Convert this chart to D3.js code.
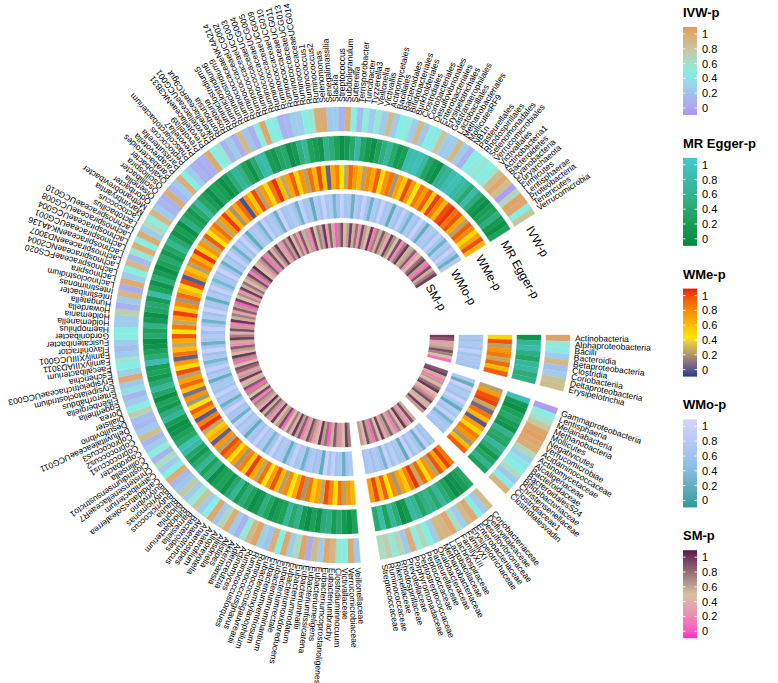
<!DOCTYPE html>
<html><head><meta charset="utf-8">
<script src="https://cdn.jsdelivr.net/npm/d3@7"></script>
<style>body{margin:0;background:#fff}svg{display:block}text{font-family:"Liberation Sans",Arial,Helvetica,sans-serif}</style>
</head><body><svg id="c" width="778" height="683"></svg>
<script>
// ---- categories (sector by sector, clockwise) ----
const sectorA=["Actinobacteria","Alphaproteobacteria","Bacilli","Bacteroidia","Betaproteobacteria","Clostridia","Coriobacteriia","Deltaproteobacteria","Erysipelotrichia"];
const sectorB=["Gammaproteobacteria","Lentisphaeria","Melainabacteria","Methanobacteria","Mollicutes","Negativicutes","Verrucomicrobiae","Acidaminococcaceae","Actinomycetaceae","Alcaligenaceae","Bacteroidaceae","BacteroidalesS24","Bifidobacteriaceae","Christensenellaceae","Clostridiaceae1","Clostridialesvadin"];
const sectorC=["Coriobacteriaceae","Defluviitaleaceae","Desulfovibrionaceae","Enterobacteriaceae","Erysipelotrichaceae","FamilyXI","FamilyXIII","Lachnospiraceae","Lactobacillaceae","Methanobacteriaceae","Oxalobacteraceae","Pasteurellaceae","Peptococcaceae","Peptostreptococcaceae","Porphyromonadaceae","Prevotellaceae","Rhodospirillaceae","Rikenellaceae","Ruminococcaceae","Streptococcaceae"];
const sectorDFamilies=["Veillonellaceae","Verrucomicrobiaceae","Victivallaceae"];
const sectorDGenera=["Clostridiuminnocuum","Eubacteriumbrachy","Eubacteriumcoprostanoligenes","Eubacteriumeligens","Eubacteriumfissicatena","Eubacteriumhallii","Eubacteriumnodatum","Eubacteriumoxidoreducens","Eubacteriumrectale","Eubacteriumruminantium","Eubacteriumventriosum","Eubacteriumxylanophilum","Ruminococcusgauvreauii","Ruminococcusgnavus","Ruminococcustorques","Actinomyces","Adlercreutzia","Akkermansia","Alistipes","Allisonella","Alloprevotella","Anaerofilum","Anaerostipes","Anaerotruncus","Bacteroides","Barnesiella","Bifidobacterium","Bilophila","Blautia","Butyricicoccus","Butyricimonas","Butyrivibrio","CandidatusSoleaferrea","Catenibacterium","ChristensenellaceaeR7","Clostridiumsensustricto1","Collinsella","Coprobacter","Coprococcus1","Coprococcus2","Coprococcus3","DefluviitaleaceaeUCG011","Desulfovibrio","Dialister","Dorea","Eggerthella","Eisenbergiella","Enterorhabdus","Erysipelatoclostridium","ErysipelotrichaceaeUCG003","Escherichia","Faecalibacterium","FamilyXIIIAD3011","FamilyXIIIUCG001","Flavonifractor","Fusicatenibacter","Gordonibacter","Haemophilus","Holdemanella","Holdemania","Howardella","Hungatella","Intestinibacter","Intestinimonas","Lachnoclostridium","Lachnospira","LachnospiraceaeFCS020","LachnospiraceaeNC2004","LachnospiraceaeND3007","LachnospiraceaeNK4A136","LachnospiraceaeUCG001","LachnospiraceaeUCG004","LachnospiraceaeUCG008","LachnospiraceaeUCG010","Lactobacillus","Lactococcus","Marvinbryantia","Methanobrevibacter","Odoribacter","Olsenella","Oscillibacter","Oscillospira","Oxalobacter","Parabacteroides","Paraprevotella","Parasutterella","Peptococcus","Phascolarctobacterium","Prevotella7","Prevotella9","PrevotellaceaeNK3B31","PrevotellaceaeUCG001","RikenellaceaeRC9gut","Romboutsia","Roseburia","Ruminiclostridium5","Ruminiclostridium6","Ruminiclostridium9","RuminococcaceaeNK4A214","RuminococcaceaeUCG002","RuminococcaceaeUCG003","RuminococcaceaeUCG004","RuminococcaceaeUCG005","RuminococcaceaeUCG009","RuminococcaceaeUCG010","RuminococcaceaeUCG011","RuminococcaceaeUCG013","RuminococcaceaeUCG014","Ruminococcus1","Ruminococcus2","Selenomonas","Senegalimassilia","Slackia","Streptococcus","Subdoligranulum","Sutterella","Terrisporobacter","Turicibacter","Tyzzerella3","Veillonella","Victivallis"];
const sectorDOrders=["Actinomycetales","Bacillales","Bacteroidales","Bifidobacteriales","Burkholderiales","Clostridiales","Coriobacteriales","Desulfovibrionales","Enterobacteriales","Erysipelotrichales","Gastranaerophilales","Lactobacillales","Methanobacteriales","MollicutesRF9","NB1n","Pasteurellales","Rhodospirillales","Selenomonadales","Verrucomicrobiales","Victivallales"];
const sectorDPhyla=["Actinobacteria1","Bacteroidetes","Cyanobacteria","Euryarchaeota","Firmicutes","Lentisphaerae","Proteobacteria","Tenericutes","Verrucomicrobia"];

const ringNames=["IVW-p","MR Egger-p","WMe-p","WMo-p","SM-p"];
const legendTicks=[0,0.2,0.4,0.6,0.8,1];
const legendTickLabels=["0","0.2","0.4","0.6","0.8","1"];

// ---- series values (p-values, in item order A,B,C,D) ----
const ivwP=[0.96,0.55,0.48,0.3,0.82,0.22,0.3,0.78,0.8,
0.04,0.52,0.58,0.74,0.95,0.97,0.93,0.9,0.66,0.32,0.44,0.5,0.62,0.28,0.46,0.86,
0.8,0.3,0.5,0.92,0.82,0.3,0.6,0.93,0.85,0.84,0.3,0.5,0.65,0.52,0.9,0.28,0.66,0.55,0.7,0.62,
0.3,0.92,0.5,0.55,0.85,0.94,0.3,0.82,0.12,0.94,0.62,0.3,0.93,0.5,0.88,
0.25,0.34,0.95,0.82,0.55,0.16,0.3,0.9,0.66,0.28,0.93,0.5,0.3,0.76,0.55,
0.3,0.72,0.28,0.2,0.9,0.5,0.3,0.62,0.18,0.52,0.3,0.18,0.8,0.3,0.2,
0.22,0.7,0.5,0.3,0.18,0.4,0.28,0.92,0.32,0.5,0.55,0.3,0.22,0.3,0.5,
0.5,0.3,0.32,0.7,0.15,0.3,0.85,0.12,0.9,0.3,0.5,0.82,0.2,0.55,0.9,
0.5,0.92,0.3,0.62,0.52,0.85,0.3,0.18,0.15,0.9,0.2,0.3,0.88,0.5,0.3,
0.15,0.12,0.15,0.92,0.5,0.55,0.18,0.3,0.15,0.82,0.25,0.15,0.52,0.93,0.5,
0.48,0.15,0.2,0.3,0.3,0.5,0.55,0.9,0.92,0.28,0.3,0.15,0.9,0.5,0.2,
0.52,0.3,0.55,0.3,0.8,0.3,0.5,0.52,0.3,0.82,0.28,0.5,0.48,0.75,0.3,
0.3,0.82,0.3,0.15,0.5,0.52,0.55,0.5,0.55,0.82,0.92,0.8,0.05,0.65,0.95,0.93,0.5,0.75];
const eggerP=[0.15,0.6,0.75,0.5,0.35,0.65,0.7,0.45,0.5,
0.85,0.2,0.1,0.3,0.4,0.25,0.15,0.55,0.4,0.35,0.65,0.45,0.2,0.35,0.55,0.3,
0.35,0.25,0.15,0.1,0.3,0.45,0.65,0.4,0.55,0.5,0.35,0.6,0.7,0.2,0.1,0.45,0.65,0.3,0.75,0.4,
0.3,0.1,0.2,0.4,0.25,0.5,0.45,0.15,0.3,0.1,0.2,0.55,0.4,0.65,0.3,
0.25,0.15,0.35,0.5,0.2,0.1,0.3,0.45,0.25,0.6,0.4,0.15,0.3,0.25,0.1,
0.5,0.3,0.6,0.4,0.2,0.35,0.7,0.85,0.4,0.3,0.15,0.1,0.25,0.6,0.45,
0.2,0.3,0.1,0.35,0.65,0.4,0.2,0.3,0.25,0.8,0.45,0.3,0.15,0.1,0.4,
0.3,0.55,0.2,0.1,0.35,0.4,0.25,0.75,0.3,0.15,0.45,0.25,0.1,0.3,0.4,
0.2,0.35,0.6,0.4,0.15,0.25,0.1,0.5,0.3,0.2,0.4,0.65,0.35,0.25,0.1,
0.3,0.25,0.1,0.2,0.45,0.6,0.55,0.3,0.15,0.4,0.7,0.75,0.25,0.2,0.35,
0.4,0.1,0.2,0.5,0.65,0.3,0.25,0.15,0.55,0.45,0.3,0.1,0.2,0.4,0.7,
0.35,0.2,0.1,0.3,0.5,0.65,0.4,0.2,0.25,0.75,0.8,0.85,0.7,0.35,0.2,
0.1,0.55,0.6,0.8,0.85,0.7,0.65,0.4,0.75,0.45,0.2,0.1,0.25,0.3,0.5,0.2,0.1,0.3];
const wmeP=[0.5,0.9,0.28,0.72,0.8,0.3,0.85,0.6,0.88,
0.28,0.7,0.9,0.95,0.3,0.12,0.82,0.6,0.08,0.7,0.5,0.8,0.72,0.25,0.6,0.88,
0.8,0.95,0.65,0.9,0.28,0.72,0.48,0.85,0.3,0.97,0.78,0.55,0.68,0.25,0.75,0.45,0.88,0.6,0.93,0.7,
0.6,0.7,0.28,0.82,0.48,0.75,0.92,0.3,0.68,0.55,0.8,0.25,0.88,0.65,0.45,
0.75,0.28,0.6,0.9,0.7,0.45,0.82,0.3,0.65,0.95,0.55,0.78,0.25,0.7,0.48,
0.8,0.92,0.28,0.72,0.1,0.65,0.55,0.3,0.97,0.78,0.08,0.7,0.88,0.45,0.25,
0.72,0.15,0.58,0.85,0.68,0.28,0.92,0.48,0.7,0.1,0.82,0.6,0.3,0.66,0.9,
0.45,0.8,0.3,0.68,0.95,0.55,0.75,0.25,0.85,0.62,0.5,0.92,0.08,0.7,0.58,
0.28,0.78,0.65,0.97,0.55,0.72,0.3,0.88,0.45,0.68,0.82,0.3,0.7,0.95,0.6,
0.25,0.66,0.85,0.06,0.72,0.55,0.92,0.28,0.7,0.48,0.8,0.97,0.58,0.3,0.68,
0.88,0.5,0.72,0.28,0.82,0.62,0.92,0.55,0.1,0.66,0.78,0.45,0.3,0.85,0.7,
0.6,0.28,0.75,0.66,0.88,0.48,0.72,0.82,0.25,0.68,0.55,0.92,0.7,0.45,0.8,
0.7,0.88,0.55,0.95,0.78,0.62,0.92,0.97,0.82,0.9,0.65,0.28,0.88,0.75,0.5,0.68,0.92,0.62];
const wmoP=[0.65,0.6,0.7,0.62,0.85,0.6,0.68,0.65,0.6,
0.7,0.25,0.88,0.62,0.7,0.6,0.9,0.65,0.22,0.75,0.62,0.85,0.35,0.6,0.7,0.62,
0.65,0.6,0.85,0.3,0.62,0.75,0.6,0.9,0.22,0.65,0.62,0.78,0.6,0.85,0.35,0.62,0.72,0.6,0.7,0.62,
0.7,0.62,0.28,0.65,0.6,0.85,0.62,0.9,0.22,0.65,0.6,0.72,0.62,0.3,0.7,
0.62,0.85,0.6,0.25,0.65,0.72,0.62,0.9,0.6,0.35,0.7,0.62,0.85,0.6,0.65,
0.22,0.62,0.72,0.6,0.85,0.3,0.65,0.62,0.9,0.6,0.28,0.7,0.62,0.85,0.6,
0.65,0.62,0.25,0.72,0.6,0.85,0.62,0.35,0.7,0.6,0.9,0.62,0.28,0.65,0.72,
0.6,0.85,0.62,0.3,0.7,0.6,0.9,0.62,0.65,0.22,0.72,0.6,0.85,0.62,0.35,
0.65,0.6,0.9,0.62,0.28,0.72,0.6,0.85,0.62,0.3,0.7,0.6,0.88,0.62,0.22,
0.65,0.72,0.6,0.35,0.85,0.62,0.7,0.6,0.28,0.9,0.62,0.65,0.72,0.6,0.3,
0.85,0.62,0.65,0.22,0.72,0.6,0.9,0.62,0.7,0.35,0.6,0.85,0.62,0.65,0.28,
0.72,0.6,0.85,0.62,0.3,0.7,0.6,0.9,0.62,0.65,0.22,0.72,0.6,0.85,0.62,
0.35,0.7,0.6,0.88,0.62,0.25,0.65,0.72,0.6,0.85,0.62,0.3,0.7,0.6,0.9,0.62,0.28,0.72];
const smP=[0.9,0.82,0.3,0.55,0.6,0.85,0.7,0.5,0.15,
0.82,0.9,0.55,0.2,0.6,0.45,0.75,0.92,0.5,0.3,0.65,0.85,0.55,0.4,0.9,0.6,
0.55,0.85,0.3,0.6,0.92,0.45,0.7,0.2,0.55,0.8,0.6,0.35,0.9,0.5,0.75,0.15,0.6,0.85,0.45,0.6,
0.7,0.9,0.5,0.25,0.6,0.82,0.55,0.1,0.75,0.6,0.92,0.45,0.3,0.65,0.85,
0.55,0.2,0.8,0.6,0.92,0.4,0.7,0.5,0.15,0.85,0.6,0.45,0.9,0.3,0.62,
0.8,0.55,0.95,0.35,0.6,0.7,0.2,0.88,0.5,0.65,0.1,0.82,0.55,0.4,0.9,
0.6,0.3,0.75,0.85,0.5,0.15,0.65,0.92,0.45,0.6,0.8,0.25,0.55,0.9,0.7,
0.4,0.85,0.6,0.2,0.92,0.55,0.7,0.35,0.8,0.6,0.1,0.88,0.5,0.65,0.3,
0.9,0.55,0.75,0.45,0.6,0.85,0.2,0.7,0.95,0.5,0.35,0.62,0.8,0.15,0.6,
0.85,0.4,0.65,0.9,0.55,0.25,0.75,0.6,0.92,0.45,0.7,0.3,0.82,0.55,0.6,
0.2,0.88,0.5,0.7,0.6,0.92,0.35,0.8,0.55,0.1,0.65,0.85,0.45,0.6,0.9,
0.55,0.75,0.3,0.85,0.6,0.45,0.92,0.2,0.7,0.55,0.82,0.6,0.4,0.9,0.65,
0.5,0.85,0.25,0.7,0.92,0.55,0.6,0.8,0.3,0.45,0.75,0.9,0.6,0.15,0.85,0.55,0.7,0.9];

// ---- colour ramps (LAB interpolation, like colorRamp2) ----
function ramp(stops,cols){return d3.scaleLinear().domain(stops).range(cols).interpolate(d3.interpolateLab).clamp(true);}
const colorScales=[
  ramp([0,0.5,1],["#B096F4","#86EEE3","#E49B5B"]),
  ramp([0,0.3,0.6,1],["#018541","#1DA25A","#35B496","#44C7C9"]),
  ramp([0,0.45,1],["#1E3C96","#FFE600","#E81C0C"]),
  ramp([0,0.5,1],["#2B9C98","#93C0EA","#D6D3FF"]),
  ramp([0,0.5,1],["#FF2EC4","#D3C2A2","#5A1B4C"])
];
const series=[ivwP,eggerP,wmeP,wmoP,smP];

// ---- layout ----
const CX=342, CY=335;
const svg=d3.select("#c");
const rad=d3.scaleBand().domain(ringNames).range([228,88]).paddingInner(0.17);
const itemDeg=1.585, gapDeg=[4.5,4.5,5];
const sectors=[sectorA,sectorB,sectorC,[...sectorDFamilies,...sectorDGenera,...sectorDOrders,...sectorDPhyla]];
const toRad=d=>d*Math.PI/180;
let startDeg=90, offset=0, lastEnd=0;
const items=[];
sectors.forEach((names,si)=>{
  const n=names.length;
  const ang=d3.scaleLinear().domain([0,n]).range([toRad(startDeg),toRad(startDeg+n*itemDeg)]);
  names.forEach((nm,i)=>items.push({name:nm,idx:offset+i,a0:ang(i),a1:ang(i+1),am:ang(i+0.5)}));
  lastEnd=startDeg+n*itemDeg;
  offset+=n;
  startDeg=lastEnd+(gapDeg[si]||0);
});

const g=svg.append("g").attr("transform",`translate(${CX},${CY})`);
const arc=d3.arc();
ringNames.forEach((rn,ri)=>{
  const r0=rad(rn), r1=r0+rad.bandwidth();
  const vals=series[ri], cs=colorScales[ri];
  g.append("g").selectAll("path").data(items).join("path")
    .attr("d",d=>arc({innerRadius:r0,outerRadius:r1,startAngle:d.a0,endAngle:d.a1}))
    .attr("fill",d=>cs(vals[d.idx]))
    .attr("stroke",d=>cs(vals[d.idx]))
    .attr("stroke-width",0.35);
});

// item labels (radial, clockwise facing)
g.append("g").selectAll("text").data(items).join("text")
  .attr("transform",d=>`rotate(${d.am*180/Math.PI-90}) translate(233,0)`)
  .attr("dominant-baseline","central")
  .attr("font-size","8.5px")
  .attr("fill","#000")
  .text(d=>d.name);

// ring names after the last sector
const phi=lastEnd+2.2;
ringNames.forEach(rn=>{
  const r=rad(rn)+rad.bandwidth()/2;
  const x=r*Math.sin(toRad(phi)), y=-r*Math.cos(toRad(phi));
  g.append("text").attr("transform",`translate(${x},${y}) rotate(${phi})`)
    .attr("dominant-baseline","central").attr("font-size","12px").attr("fill","#000").text(rn);
});

// ---- legends ----
const defs=svg.append("defs");
const LX=683, LW=14;
ringNames.forEach((rn,ri)=>{
  const top=ri*130.8;
  const lg=svg.append("g").attr("transform",`translate(${LX},${top})`);
  lg.append("text").attr("x",0).attr("y",17).attr("font-size","13px").attr("font-weight","bold").attr("fill","#000").text(rn);
  const y=d3.scaleLinear().domain([0,1]).range([108,34]);
  const gid="lg"+ri;
  const grad=defs.append("linearGradient").attr("id",gid).attr("x1",0).attr("y1",1).attr("x2",0).attr("y2",0);
  d3.range(0,1.0001,0.05).forEach(v=>grad.append("stop").attr("offset",v).attr("stop-color",colorScales[ri](v)));
  lg.append("rect").attr("x",0).attr("y",y(1)-7).attr("width",LW).attr("height",y(0)-y(1)+14).attr("fill",`url(#${gid})`);
  legendTicks.forEach((t,k)=>{
    lg.append("line").attr("x1",0).attr("x2",2.5).attr("y1",y(t)).attr("y2",y(t)).attr("stroke","#fff").attr("stroke-width",0.8);
    lg.append("line").attr("x1",LW-2.5).attr("x2",LW).attr("y1",y(t)).attr("y2",y(t)).attr("stroke","#fff").attr("stroke-width",0.8);
    lg.append("text").attr("x",LW+5).attr("y",y(t)).attr("dominant-baseline","central").attr("font-size","11px").attr("fill","#000").text(legendTickLabels[k]);
  });
});
</script></body></html>
